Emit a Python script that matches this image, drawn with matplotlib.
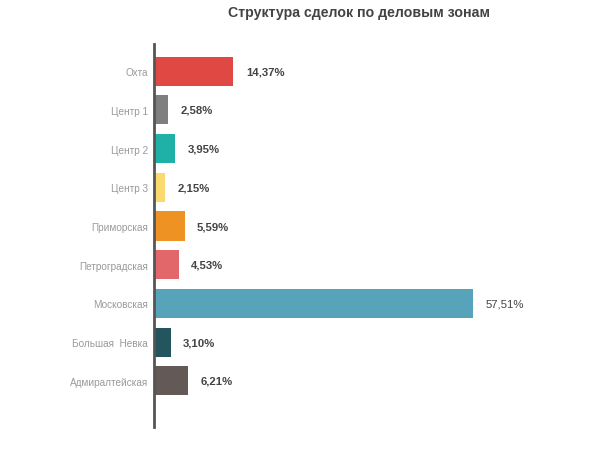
import matplotlib
matplotlib.use("Agg")
import matplotlib.pyplot as plt

plt.rcParams['font.family'] = ['Liberation Sans', 'DejaVu Sans']

zones = ["Охта", "Центр 1", "Центр 2", "Центр 3", "Приморская",
         "Петроградская", "Московская", "Большая  Невка", "Адмиралтейская"]
shares = [14.37, 2.58, 3.95, 2.15, 5.59, 4.53, 57.51, 3.10, 6.21]
share_labels = ["14,37%", "2,58%", "3,95%", "2,15%", "5,59%",
                "4,53%", "57,51%", "3,10%", "6,21%"]
colors = ["#E04844", "#7F7F7F", "#1FB0A8", "#FADA6E", "#EE9223",
          "#E1676A", "#56A3BA", "#22555E", "#635A58"]

fig = plt.figure(figsize=(6, 4.52), dpi=100)
W, H = 600, 452
left, right, top, bottom = 153.5, 542, 45, 428
ax = fig.add_axes([left / W, 1 - bottom / H, (right - left) / W, (bottom - top) / H])

y = list(range(len(zones)))
ax.barh(y, shares, height=0.75, color=colors, zorder=2)

ax.set_xlim(0, 70)
ax.set_ylim(8 + 1.19, -0.7)

# value labels
for i, (v, lab) in enumerate(zip(shares, share_labels)):
    weight = "normal" if i == 6 else "bold"
    ax.annotate(lab, xy=(v, i), xytext=(9, 0), textcoords="offset points",
                va="center", ha="left", fontsize=8.2, color="#444444",
                fontweight=weight)

ax.set_yticks(y)
ax.set_yticklabels(zones, fontsize=7.2, color="#9a9a9a")
ax.tick_params(axis="y", length=0, pad=4)
ax.set_xticks([])

for s in ["top", "right", "bottom"]:
    ax.spines[s].set_visible(False)
ax.spines["left"].set_color("#555555")
ax.spines["left"].set_linewidth(2)
ax.spines["left"].set_zorder(3)

fig.text(359 / W, 1 - 13 / H, "Структура сделок по деловым зонам",
         ha="center", va="center", fontsize=10.2, color="#444444",
         fontweight="bold")

fig.savefig("out.png", dpi=100)
